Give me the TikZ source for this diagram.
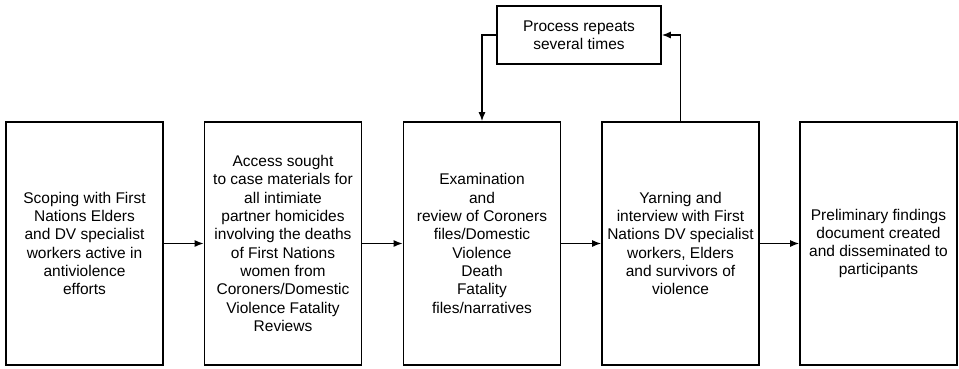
\documentclass[tikz,border=0pt]{standalone}
\usepackage{fontspec}
\setmainfont{Liberation Sans}
\usetikzlibrary{arrows.meta}
\begin{document}
\begin{tikzpicture}[x=1pt,y=-1pt,
  stepbox/.style={draw, line width=1.6pt, minimum width=157pt, minimum height=243pt, inner sep=0pt,
    align=center, font=\fontsize{15.5}{18.3}\selectfont},
  topbox/.style={draw, line width=1.6pt, minimum width=164pt, minimum height=58pt, inner sep=0pt,
    align=center, font=\fontsize{15.5}{18.3}\selectfont},
  conn/.style={line width=1.4pt, -{Latex[length=9pt,width=7pt]}}]
\useasboundingbox (0,0) rectangle (959,368);
\node[stepbox] (b1) at (84.5,243.5) {Scoping with First\\Nations Elders\\and DV specialist\\workers active in\\antiviolence\\efforts};
\node[stepbox] (b2) at (283,243.5) {Access sought\\to case materials for\\all intimiate\\partner homicides\\involving the deaths\\of First Nations\\women from\\Coroners/Domestic\\Violence Fatality\\Reviews};
\node[stepbox] (b3) at (482,243.5) {Examination\\and\\review of Coroners\\files/Domestic\\Violence\\Death\\Fatality\\files/narratives};
\node[stepbox] (b4) at (680.5,243.5) {Yarning and\\interview with First\\Nations DV specialist\\workers, Elders\\and survivors of\\violence};
\node[stepbox] (b5) at (878.5,243.5) {Preliminary findings\\document created\\and disseminated to\\participants};
\node[topbox] (t) at (579,35) {Process repeats\\several times};
\draw[conn] (b1) -- (b2);
\draw[conn] (b2) -- (b3);
\draw[conn] (b3) -- (b4);
\draw[conn] (b4) -- (b5);
\draw[conn] (t.west) -| (b3.north);
\draw[conn] (b4.north) |- (t.east);
\end{tikzpicture}
\end{document}
